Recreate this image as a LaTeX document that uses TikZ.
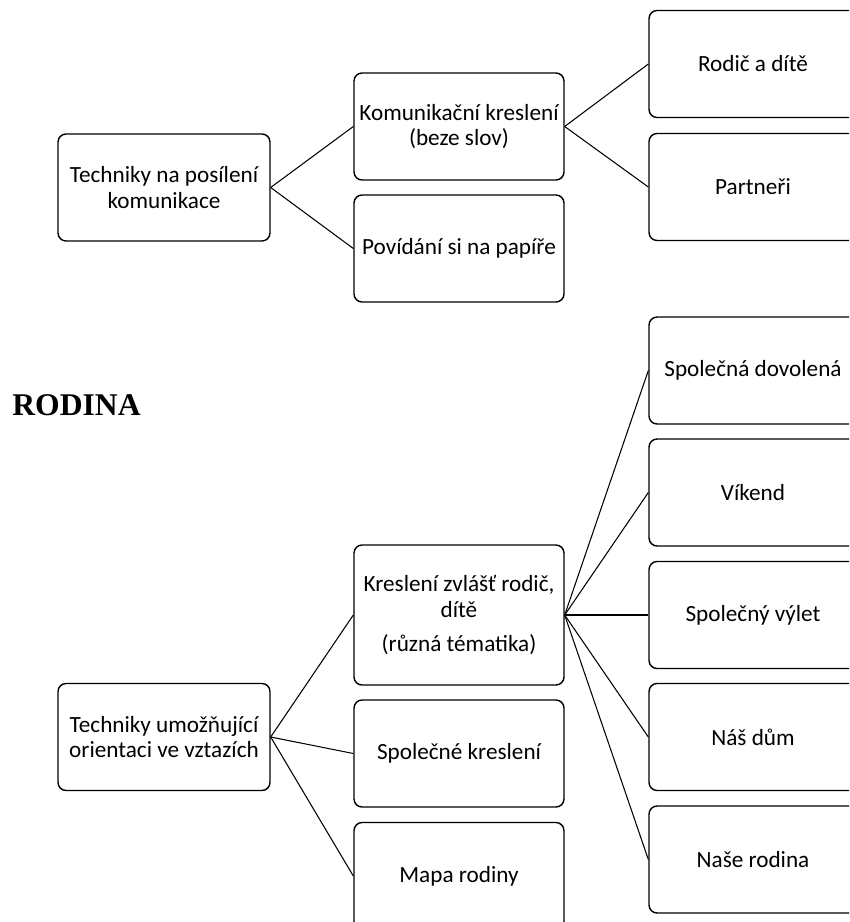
\documentclass[tikz,border=0pt]{standalone}
\usepackage{fontspec}
\setmainfont{Carlito}
\newfontfamily\titlefont{Liberation Serif}
\begin{document}
\begin{tikzpicture}[x=0.02cm, y=-0.02cm,
	box/.style={draw, rounded corners=0.16cm, line width=0.8pt, align=center, inner sep=1pt, minimum height=2.14cm, font=\fontsize{13.2}{14.4}\selectfont},
	leftbox/.style={box, minimum width=4.24cm},
	midbox/.style={box, minimum width=4.2cm},
	rightbox/.style={box, minimum width=4.16cm},
	link/.style={line width=0.6pt}]
		\useasboundingbox (0,0) rectangle (849,922);
		\clip (0,0) rectangle (849,922);
		\node [leftbox] (posileni) at (164,187.5) {Techniky na posílení\\komunikace};
		\node [midbox] (komkresleni) at (459,126.5) {Komunikační kreslení\\(beze slov)};
		\node [midbox] (povidani) at (459,248.5) {Povídání si na papíře};
		\node [rightbox] (rodic) at (753,64) {Rodič a dítě};
		\node [rightbox] (partneri) at (753,187) {Partneři};
		\draw [link] (posileni.east) -- (komkresleni.west);
		\draw [link] (posileni.east) -- (povidani.west);
		\draw [link] (komkresleni.east) -- (rodic.west);
		\draw [link] (komkresleni.east) -- (partneri.west);
		\node [anchor=base west, inner sep=0pt, font=\titlefont\bfseries\fontsize{18}{20}\selectfont] (rodina) at (12,415) {RODINA};
		\node [leftbox] (orientace) at (164,737) {Techniky umožňující\\orientaci ve vztazích};
		\node [midbox, minimum height=2.8cm] (zvlast) at (459,615) {Kreslení zvlášť rodič,\\dítě\\[5pt](různá tématika)};
		\node [midbox] (spolkresleni) at (459,753.5) {Společné kreslení};
		\node [midbox] (mapa) at (459,876) {Mapa rodiny};
		\node [rightbox] (dovolena) at (753,370.5) {Společná dovolená};
		\node [rightbox] (vikend) at (753,492.5) {Víkend};
		\node [rightbox] (vylet) at (753,615) {Společný výlet};
		\node [rightbox] (dum) at (753,737) {Náš dům};
		\node [rightbox] (nase) at (753,859.5) {Naše rodina};
		\foreach \t in {zvlast,spolkresleni,mapa}
			\draw [link] (orientace.east) -- (\t.west);
		\foreach \t in {dovolena,vikend,vylet,dum,nase}
			\draw [link] (zvlast.east) -- (\t.west);
\end{tikzpicture}
\end{document}
